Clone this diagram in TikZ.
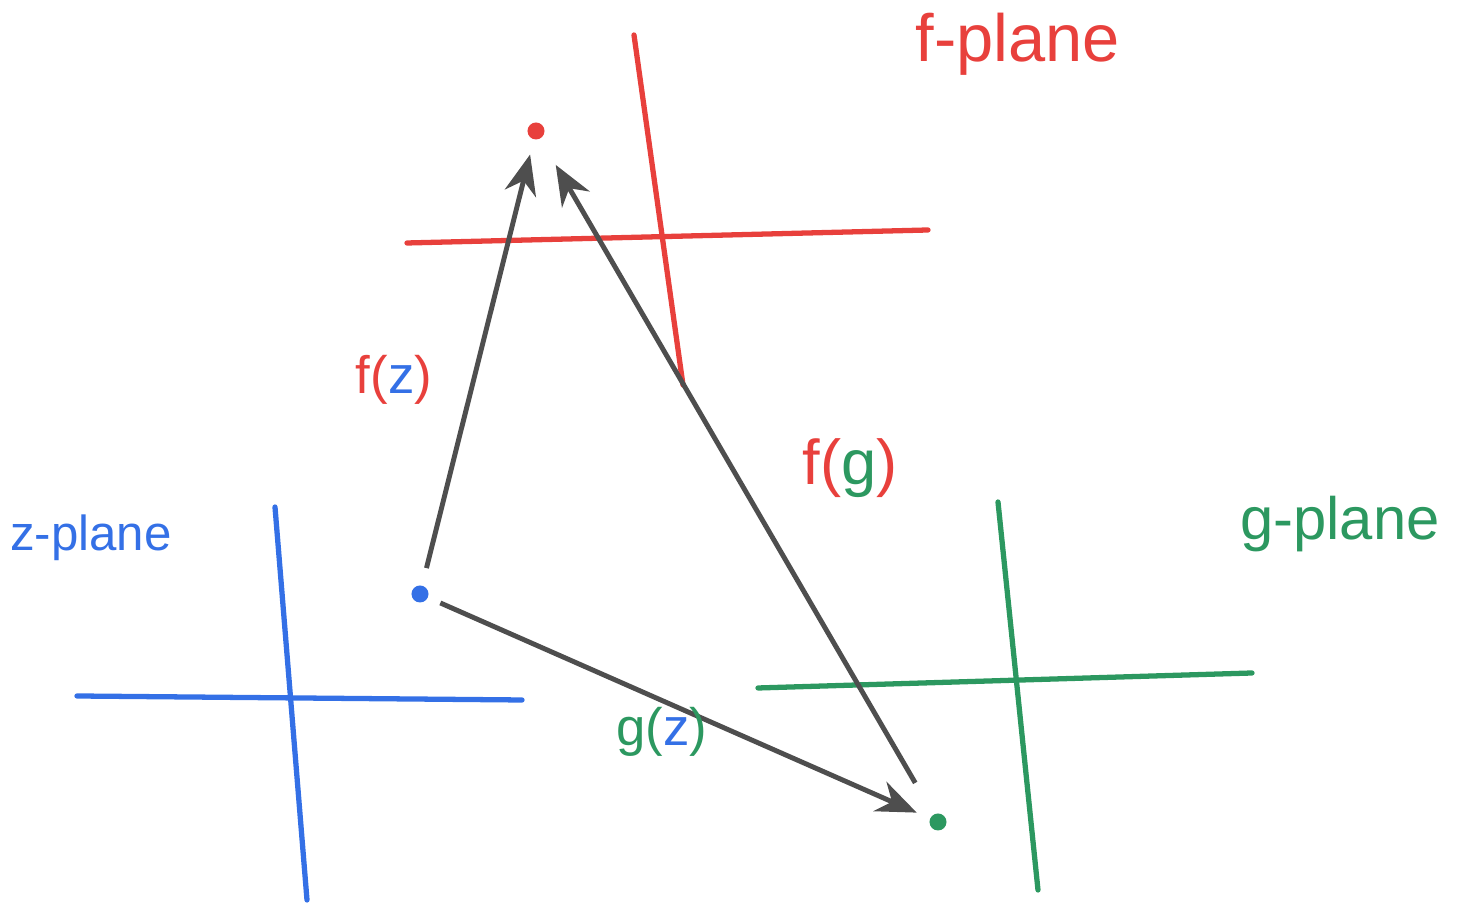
\documentclass[tikz,border=0pt]{standalone}
\usepackage{fontspec}
\setmainfont{Liberation Sans}
\usetikzlibrary{arrows.meta}
\definecolor{planered}{RGB}{232,64,60}
\definecolor{planeblue}{RGB}{52,112,230}
\definecolor{planegreen}{RGB}{44,152,96}
\definecolor{mapgray}{RGB}{78,78,78}
\tikzset{
  axisline/.style={line width=1.5pt,line cap=round},
  point/.style={circle,fill,inner sep=0pt,minimum size=1.7mm},
  maparrow/.style={mapgray,line width=1.4pt,-{Stealth[length=4mm,width=3.2mm]}},
  planelabel/.style={font=\fontsize{#1}{#1}\selectfont},
  maplabel/.style={font=\fontsize{#1}{#1}\selectfont}
}
\begin{document}
\begin{tikzpicture}[x=0.01cm,y=-0.01cm]
  \useasboundingbox (0,0) rectangle (1459,904);
  % axes of the three planes
  \draw[axisline,planered] (634,35) -- (683,385);
  \draw[axisline,planered] (407,243) -- (928,230);
  \draw[axisline,planeblue] (275,507) -- (307,900);
  \draw[axisline,planeblue] (77,696) -- (522,700);
  \draw[axisline,planegreen] (998,502) -- (1038,890);
  \draw[axisline,planegreen] (758,688) -- (1252,673);
  % plane names
  \node[planelabel=19,planered] (fname) at (1018,44) {f-plane};
  \node[planelabel=14,planeblue] (zname) at (91,538) {z-plane};
  \node[planelabel=17,planegreen] (gname) at (1340,524) {g-plane};
  % points
  \node[point,planered] (fpt) at (536,131) {};
  \node[point,planeblue] (zpt) at (420,594) {};
  \node[point,planegreen] (gpt) at (938,822) {};
  % maps
  \draw[maparrow,shorten <=1.75mm,shorten >=1.5mm] (zpt) -- (fpt);
  \draw[maparrow,shorten <=3.6mm,shorten >=3mm] (gpt) -- (fpt);
  \draw[maparrow,shorten <=1.3mm,shorten >=1.4mm] (zpt) -- (gpt);
  \node[maplabel=15] (fz) at (394,380) {\color{planered}f(\color{planeblue}z\color{planered})};
  \node[maplabel=18] (fg) at (850,468) {\color{planered}f(\color{planegreen}g\color{planered})};
  \node[maplabel=15] (gz) at (662,732) {\color{planegreen}g(\color{planeblue}z\color{planegreen})};
\end{tikzpicture}
\end{document}
